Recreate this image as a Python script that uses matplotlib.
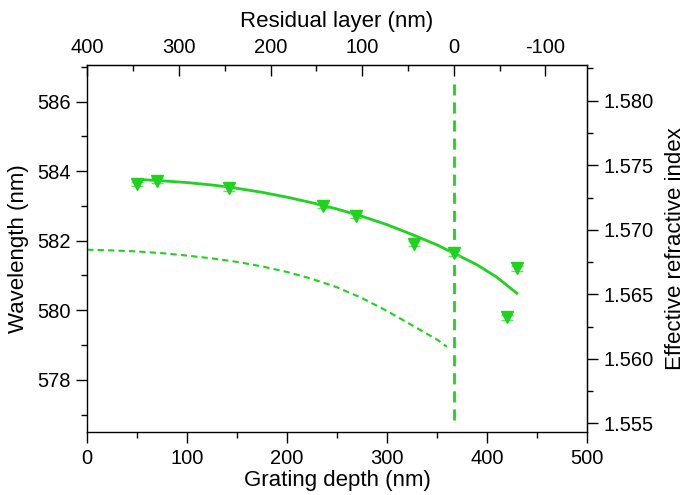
import matplotlib
matplotlib.use('Agg')
import matplotlib.pyplot as plt
import numpy as np

plt.rcParams['font.family'] = ['Liberation Sans', 'DejaVu Sans']
plt.rcParams['axes.unicode_minus'] = False

# measured points
depth = [49.5, 70, 141.6, 236.3, 269, 327, 367, 420.5, 430.5]
wavelength = [583.63, 583.72, 583.51, 583.01, 582.72, 581.91, 581.64, 579.80, 581.21]
err = [0.07, 0.07, 0.07, 0.07, 0.07, 0.07, 0.07, 0.07, 0.07]

# fit curve (solid)
fit_x = [50, 70, 100, 125, 142, 175, 200, 225, 250, 275, 300, 325, 350, 367, 390, 410, 430]
fit_y = [583.76, 583.73, 583.67, 583.60, 583.54, 583.39, 583.25, 583.09, 582.91, 582.70,
         582.46, 582.18, 581.88, 581.64, 581.31, 580.95, 580.49]

# simulation curve (dashed)
sim_x = [0, 25, 50, 75, 100, 125, 150, 175, 200, 225, 250, 275, 300, 325, 350, 360]
sim_y = [581.74, 581.72, 581.69, 581.64, 581.57, 581.49, 581.39, 581.26, 581.10, 580.90,
         580.66, 580.35, 579.98, 579.57, 579.16, 578.95]

zero_depth = 367    # grating depth where residual layer = 0
period = 370.9      # wavelength / n_eff

green = '#1ed21e'

fig = plt.figure(figsize=(6.85, 4.95), dpi=100)
ax = fig.add_axes([0.1274, 0.1273, 0.7291, 0.7414])

ax.errorbar(depth, wavelength, yerr=err, fmt='v', color=green, ms=8,
            ecolor='#66e066', elinewidth=1, capsize=4, zorder=3)
ax.plot(fit_x, fit_y, '-', color=green, lw=2)
ax.plot(sim_x, sim_y, '--', color=green, lw=1.5, dashes=(3, 2))
ax.axvline(zero_depth, ymin=0.033, ymax=0.959, color=green, lw=2, dashes=(4, 2.5))

ax.set_xlim(0, 500)
ax.set_ylim(576.5, 587.05)
ax.set_xticks(np.arange(0, 501, 100))
ax.set_xticks(np.arange(0, 501, 50), minor=True)
ax.set_yticks(np.arange(578, 587, 2))
ax.set_yticks(np.arange(577, 588, 1), minor=True)

ax.tick_params(which='major', direction='out', length=8, width=1, labelsize=14.5, pad=4)
ax.tick_params(which='minor', direction='out', length=4, width=1)
ax.set_xlabel('Grating depth (nm)', fontsize=16, labelpad=2)
ax.set_ylabel('Wavelength (nm)', fontsize=16, labelpad=6)
for s in ax.spines.values():
    s.set_linewidth(1)

# top axis: residual layer
top = ax.secondary_xaxis('top', functions=(lambda g: 400 - g * 400 / zero_depth,
                                           lambda r: (400 - r) * zero_depth / 400))
top.set_xticks(np.arange(-100, 401, 100))
top.set_xticks(np.arange(-100, 401, 50), minor=True)
top.tick_params(which='major', direction='in', length=8, width=1, labelsize=14.5, pad=6)
top.tick_params(which='minor', direction='in', length=4, width=1)
top.set_xlabel('Residual layer (nm)', fontsize=16, labelpad=8)

# right axis: effective refractive index
right = ax.secondary_yaxis('right', functions=(lambda w: w / period, lambda n: n * period))
right.set_yticks(np.arange(1.555, 1.5801, 0.005))
right.set_yticks(np.arange(1.5525, 1.5826, 0.0025), minor=True)
right.yaxis.set_major_formatter(matplotlib.ticker.FormatStrFormatter('%.3f'))
right.tick_params(which='major', direction='out', length=8, width=1, labelsize=14.5, pad=4)
right.tick_params(which='minor', direction='out', length=4, width=1)
right.set_ylabel('Effective refractive index', fontsize=16, labelpad=8)

fig.savefig('out.png', dpi=100)
